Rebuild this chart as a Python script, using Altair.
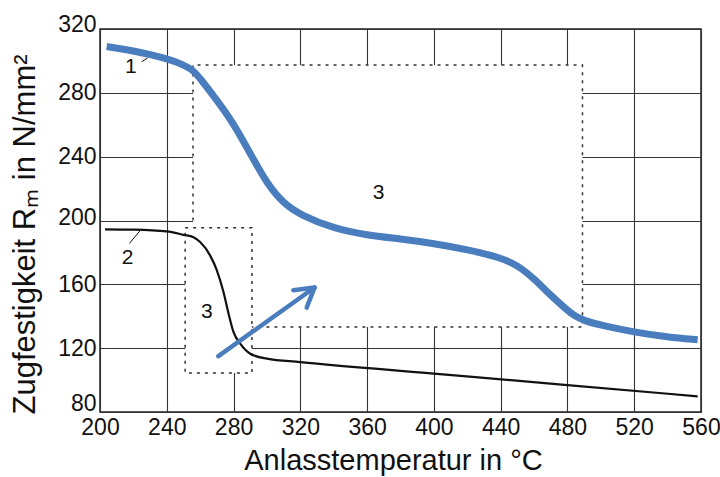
import altair as alt
import pandas as pd

# ---- data ----
x_ticks = [200, 240, 280, 320, 360, 400, 440, 480, 520, 560]
y_ticks = [80, 120, 160, 200, 240, 280, 320]

# curve 1 (blue, thick)
c1_T = [204, 220, 240, 250, 256, 260, 270, 280, 290, 300, 310, 320, 340, 360, 380,
        400, 420, 440, 450, 460, 470, 480, 484, 490, 500, 520, 540, 558]
c1_R = [309.0, 306.4, 301.6, 297.6, 294.0, 289.0, 275.5, 260.8, 242, 223, 210.6, 203.5,
        195, 190.8, 188.5, 185.6, 181.8, 176.8, 172, 163.6, 153, 143.7, 140.4, 137.2,
        134.4, 130, 127, 125.3]

# curve 2 (black, thin)
c2_T = [203, 220, 240, 250, 256, 260, 266, 270, 274, 277, 280, 284, 290, 300, 320,
        400, 480, 558]
c2_R = [194.5, 194.3, 193.2, 191, 189.5, 186.5, 178, 168.8, 155, 141.6, 130, 122.8,
        116.5, 113.4, 111.3, 104.1, 96.9, 89.8]

# region "3" boxes (data units)
big_box = {"T": 255.7, "T2": 489.0, "R": 133.2, "R2": 297.4}
small_box = {"T": 251.0, "T2": 291.0, "R": 104.4, "R2": 195.4}
big_outline_T = [255.7, 255.7, 489.0, 489.0, 291.0]
big_outline_R = [200.0, 297.4, 297.4, 133.2, 133.2]

# arrow (shaft + two head wings)
arrow_T = [270.9, 328.5, 328.5]
arrow_R = [115.0, 158.0, 158.0]
arrow_T2 = [328.5, 315.8, 323.8]
arrow_R2 = [158.0, 156.3, 145.4]

# leader lines for labels 1 and 2
lead_T = [225.0, 217.6]
lead_R = [299.5, 185.6]
lead_T2 = [228.5, 223.9]
lead_R2 = [301.8, 193.5]

labels_txt = ["1", "2", "3", "3"]
labels_T = [218.5, 216.5, 264.0, 366.9]
labels_R = [296.3, 176.7, 142.9, 217.4]

FONT = "Liberation Sans"
BLUE = "#4a7dbd"

xs = alt.Scale(domain=[200, 560], nice=False, zero=False)
ys = alt.Scale(domain=[80, 320], nice=False, zero=False)

xaxis = alt.Axis(values=x_ticks, grid=True, gridColor="#333", gridWidth=1.1,
                 ticks=False, domain=False, labelFontSize=23, labelFont=FONT,
                 labelColor="#111", labelPadding=4, labelFlush=False,
                 title="Anlasstemperatur in °C", titleFont=FONT, titleFontSize=29,
                 titleFontWeight="normal", titleColor="#111", titleX=293, titleY=57,
                 titleAlign="center", titleBaseline="alphabetic")
yaxis = alt.Axis(values=y_ticks, grid=True, gridColor="#333", gridWidth=1.1,
                 ticks=False, domain=False, labelFontSize=23, labelFont=FONT,
                 labelColor="#111", labelPadding=4,
                 labelOffset={"condition": [{"test": "datum.value == 320", "value": -5},
                                            {"test": "datum.value == 80", "value": -9},
                                            {"test": "datum.value == 200", "value": -3}],
                              "value": 0},
                 title="Zugfestigkeit Rₘ in N/mm²", titleFont=FONT, titleFontSize=31,
                 titleFontWeight="normal", titleColor="#111", titleAngle=270,
                 titleX=-66, titleY=205, titleAlign="center", titleBaseline="alphabetic")

X = alt.X("T:Q", scale=xs, axis=xaxis)
Y = alt.Y("R:Q", scale=ys, axis=yaxis)

df1 = pd.DataFrame({"T": c1_T, "R": c1_R})
df2 = pd.DataFrame({"T": c2_T, "R": c2_R})
dfbig = pd.DataFrame([big_box])
dfsmall = pd.DataFrame([small_box])
dfout = pd.DataFrame({"T": big_outline_T, "R": big_outline_R,
                      "o": list(range(len(big_outline_T)))})
dfarrow = pd.DataFrame({"T": arrow_T, "R": arrow_R, "T2": arrow_T2, "R2": arrow_R2})
dflead = pd.DataFrame({"T": lead_T, "R": lead_R, "T2": lead_T2, "R2": lead_R2})
dflab = pd.DataFrame({"T": labels_T, "R": labels_R, "txt": labels_txt})

big_fill = alt.Chart(dfbig).mark_rect(fill="white", stroke=None).encode(
    x=X, x2="T2:Q", y=Y, y2="R2:Q")
small_rect = alt.Chart(dfsmall).mark_rect(fill="white", stroke="#333", strokeWidth=1.5,
                                           strokeDash=[3, 5]).encode(
    x=X, x2="T2:Q", y=Y, y2="R2:Q")
big_outline = alt.Chart(dfout).mark_line(color="#333", strokeWidth=1.5,
                                         strokeDash=[3, 5]).encode(
    x=X, y=Y, order="o:Q")
curve2 = alt.Chart(df2).mark_line(color="#111", strokeWidth=2.2,
                                  interpolate="monotone").encode(x=X, y=Y)
curve1 = alt.Chart(df1).mark_line(color=BLUE, strokeWidth=7,
                                  interpolate="basis").encode(x=X, y=Y)
leaders = alt.Chart(dflead).mark_rule(color="#111", strokeWidth=1).encode(
    x=X, x2="T2:Q", y=Y, y2="R2:Q")
arrow = alt.Chart(dfarrow).mark_rule(color=BLUE, strokeWidth=4.5, strokeCap="round").encode(
    x=X, x2="T2:Q", y=Y, y2="R2:Q")
labels = alt.Chart(dflab).mark_text(font=FONT, fontSize=21, color="#111",
                                    align="center", baseline="middle").encode(
    x=X, y=Y, text="txt:N")

chart = alt.layer(big_fill, small_rect, big_outline, curve2, curve1, leaders, arrow,
                  labels).properties(
    width=601, height=383,
    padding={"left": 100, "top": 29, "right": 19, "bottom": 65},
    autosize=alt.AutoSizeParams(type="none"),
    background="white",
).configure_view(stroke="#222", strokeWidth=1.5)

chart.save("out.html", embed_options={"renderer": "svg", "actions": False})
